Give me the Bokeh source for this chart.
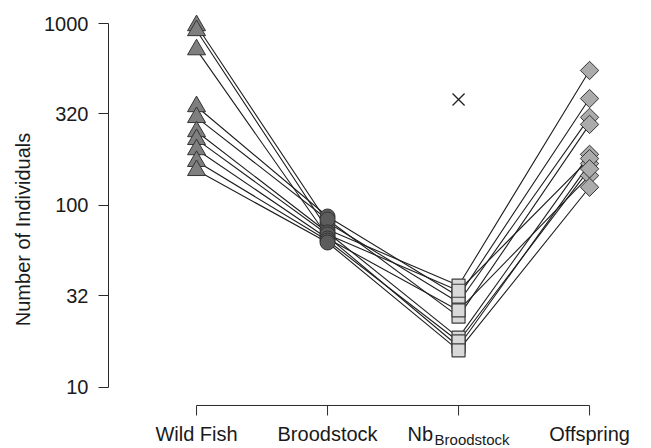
import numpy as np
from bokeh.plotting import figure
from bokeh.models import Range1d, FixedTicker, BasicTickFormatter, ColumnDataSource
from bokeh.core.properties import value
from bokeh.embed import file_html
from bokeh.resources import INLINE

# ---- data ----
categories = ["Wild Fish", "Broodstock", "Nb", "Offspring"]
subscripts = {"Nb": "Broodstock"}
wild_fish = [975, 916, 719, 350, 305, 255, 231, 203, 175, 156]
broodstock = [80.7, 73.8, 67.5, 87.0, 83.8, 71.1, 69.3, 65.9, 64.2, 62.6]
nb_broodstock = [29.3, 36.3, 16.8, 31.6, 24.5, 18.8, 34.0, 26.5, 17.9, 16.0]
offspring = [305, 552, 170, 387, 279, 191, 181, 146, 159, 126]
nb_overall = [382]
y_ticks = [10, 32, 100, 320, 1000]

FONT = "Liberation Sans"
TXT = "#1a1a1a"
AX = "#2a2a2a"
n = len(wild_fish)
xpos = list(range(1, len(categories) + 1))

# layout: 182 px per decade; x-axis line sits 18 px below the lowest y tick
PX_DECADE = 182.0
axis_level = y_ticks[0] * 10 ** (-18 / PX_DECADE)
tick_end = axis_level * 10 ** (-10 / PX_DECADE)

p = figure(width=651, height=448, title=None,
           x_range=Range1d(0.328, 4.427), y_range=Range1d(4.62, 1179),
           y_axis_type="log", x_axis_location=None,
           output_backend="svg", toolbar_location=None,
           min_border_left=108, min_border_right=6, min_border_top=10,
           min_border_bottom=0)
p.xgrid.visible = False
p.ygrid.visible = False
p.outline_line_color = None
p.background_fill_color = "white"
p.border_fill_color = "white"

# lines per family
series = [wild_fish, broodstock, nb_broodstock, offspring]
src = ColumnDataSource(dict(xs=[xpos for _ in range(n)],
                            ys=[[s[i] for s in series] for i in range(n)]))
p.multi_line("xs", "ys", source=src, line_color="#1e1e1e", line_width=1.1)

outline = "#333333"
p.scatter(x=[xpos[0]] * n, y=wild_fish, marker="triangle", size=18,
          fill_color="#7f7f7f", line_color=outline, line_width=1)
p.scatter(x=[xpos[1]] * n, y=broodstock, marker="circle", size=15,
          fill_color="#5c5c5c", line_color=outline, line_width=1)
p.scatter(x=[xpos[2]] * n, y=nb_broodstock, marker="square", size=13,
          fill_color="#d9d9d9", line_color="#3c3c3c", line_width=1.2)
p.scatter(x=[xpos[3]] * n, y=offspring, marker="square", angle=np.pi / 4, size=13,
          fill_color="#ababab", line_color=outline, line_width=1)
p.scatter(x=[xpos[2]] * len(nb_overall), y=nb_overall, marker="x", size=17,
          line_color="#222222", line_width=1.3)

# x axis drawn with glyphs (line, ticks, category labels)
p.segment(x0=[xpos[0]], y0=[axis_level], x1=[xpos[-1]], y1=[axis_level],
          line_color=AX, line_width=1)
p.segment(x0=xpos, y0=[axis_level] * len(xpos), x1=xpos, y1=[tick_end] * len(xpos),
          line_color=AX, line_width=1)

plain = [(xv, c) for xv, c in zip(xpos, categories) if c not in subscripts]
p.text(x=[a for a, _ in plain], y=[axis_level] * len(plain), text=[c for _, c in plain],
       y_offset=29, text_align="center", text_baseline="alphabetic",
       text_font=value(FONT), text_font_size="20px", text_color=TXT)
sub = [(xv, c) for xv, c in zip(xpos, categories) if c in subscripts]
p.text(x=[a for a, _ in sub], y=[axis_level] * len(sub), text=[c for _, c in sub],
       x_offset=-51, y_offset=29, text_align="left", text_baseline="alphabetic",
       text_font=value(FONT), text_font_size="20px", text_color=TXT)
p.text(x=[a for a, _ in sub], y=[axis_level] * len(sub), text=[subscripts[c] for _, c in sub],
       x_offset=-24, y_offset=34, text_align="left", text_baseline="alphabetic",
       text_font=value(FONT), text_font_size="15px", text_color=TXT)

# y axis
ya = p.yaxis[0]
ya.ticker = FixedTicker(ticks=y_ticks)
ya.formatter = BasicTickFormatter()
ya.bounds = (y_ticks[0], y_ticks[-1])
ya.major_tick_out = 10
ya.major_tick_in = 0
ya.minor_tick_out = 0
ya.minor_tick_in = 0
ya.major_label_standoff = 10
ya.major_label_text_font = FONT
ya.major_label_text_font_size = "20px"
ya.major_label_text_color = TXT
ya.axis_line_color = AX
ya.major_tick_line_color = AX
ya.axis_label = "Number of Individuals"
ya.axis_label_text_font = FONT
ya.axis_label_text_font_size = "20px"
ya.axis_label_text_font_style = "normal"
ya.axis_label_text_color = TXT
ya.axis_label_standoff = 7

open("out.html", "w").write(file_html(p, INLINE))
